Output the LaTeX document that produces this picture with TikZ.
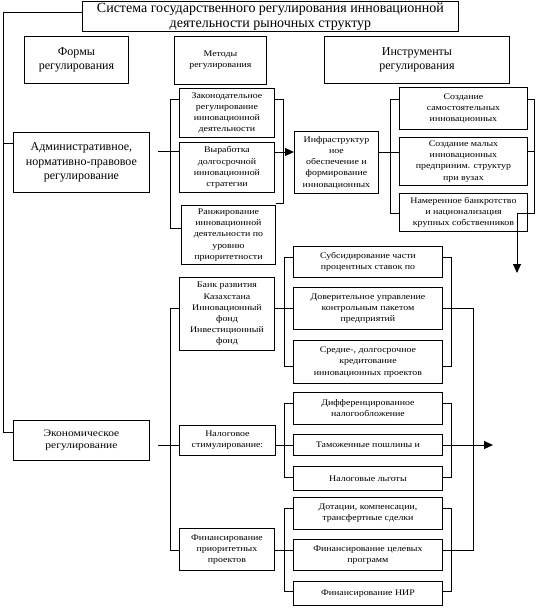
\documentclass[tikz,border=0pt]{standalone}
\usepackage{fontspec}
\setmainfont{Liberation Serif}
\newfontfamily\widefont[FakeStretch=1.15]{Liberation Serif}
\usetikzlibrary{arrows.meta}
\begin{document}
\begin{tikzpicture}[x=1pt,y=-1pt,
  ln/.style={line width=0.9pt},
  arr/.style={line width=0.9pt,-{Triangle[length=9pt,width=8pt]}},
  bx/.style={draw,line width=0.9pt,inner sep=1pt,align=center,anchor=north west},
  sm/.style={font=\widefont\fontsize{8.6}{11.2}\selectfont},
  md/.style={font=\widefont\fontsize{10}{12.5}\selectfont},
  lg/.style={font=\fontsize{12}{14.5}\selectfont},
  tt/.style={font=\fontsize{14}{15}\selectfont}]
\useasboundingbox (0,0) rectangle (544,608);
% header row
\node[bx,tt,minimum width=376pt,minimum height=30pt] (title) at (82,1) {Система государственного регулирования инновационной\\деятельности рыночных структур};
\node[bx,lg,minimum width=104pt,minimum height=47pt] (formy) at (24,36) {Формы\\регулирования};
\node[bx,sm,minimum width=92pt,minimum height=48pt] (metody) at (174,36) {Методы\\регулирования};
\node[bx,lg,minimum width=185pt,minimum height=47pt] (instr) at (324,36) {Инструменты\\регулирования};
% forms
\node[bx,lg,minimum width=136pt,minimum height=60pt] (adm) at (13,132) {Административное,\\нормативно-правовое\\регулирование};
\node[bx,md,minimum width=136pt,minimum height=40pt] (econ) at (13,420) {Экономическое\\регулирование};
% methods
\node[bx,sm,minimum width=95pt,minimum height=49pt] (zak) at (179,88) {Законодательное\\регулирование\\инновационной\\деятельности};
\node[bx,sm,minimum width=95pt,minimum height=50pt] (vyr) at (179,142) {Выработка\\долгосрочной\\инновационной\\стратегии};
\node[bx,sm,minimum width=94pt,minimum height=59pt] (ranzh) at (181,205) {Ранжирование\\инновационной\\деятельности по\\уровню\\приоритетности};
\node[bx,sm,minimum width=84pt,minimum height=62pt] (infra) at (294,131) {Инфраструктур\\ное\\обеспечение и\\формирование\\инновационных};
\node[bx,sm,minimum width=128pt,minimum height=42pt] (sozd1) at (399,87) {Создание\\самостоятельных\\инновационных};
\node[bx,sm,minimum width=128pt,minimum height=48pt] (sozd2) at (399,137) {Создание малых\\инновационных\\предприним. структур\\при вузах};
\node[bx,sm,minimum width=128pt,minimum height=38pt] (namer) at (399,193) {Намеренное банкротство\\и национализация\\крупных собственников};
\node[bx,sm,minimum width=95pt,minimum height=73pt] (bank) at (179,277) {Банк развития\\Казахстана\\Инновационный\\фонд\\Инвестиционный\\фонд};
\node[bx,sm,minimum width=96pt,minimum height=30pt] (nalog) at (179,425) {Налоговое\\стимулирование:};
\node[bx,sm,minimum width=95pt,minimum height=42pt] (finpr) at (179,528) {Финансирование\\приоритетных\\проектов};
% instruments lower
\node[bx,sm,minimum width=149pt,minimum height=31pt] (subs) at (293,246) {Субсидирование части\\процентных ставок по};
\node[bx,sm,minimum width=149pt,minimum height=42pt] (dover) at (293,287) {Доверительное управление\\контрольным пакетом\\предприятий};
\node[bx,sm,minimum width=149pt,minimum height=43pt] (sredne) at (293,340) {Средне-, долгосрочное\\кредитование\\инновационных проектов};
\node[bx,sm,minimum width=149pt,minimum height=32pt] (diff) at (293,392) {Дифференцированное\\налогообложение};
\node[bx,sm,minimum width=149pt,minimum height=21pt] (tamoz) at (293,434) {Таможенные пошлины и};
\node[bx,sm,minimum width=149pt,minimum height=24pt] (lgoty) at (293,466) {Налоговые льготы};
\node[bx,sm,minimum width=149pt,minimum height=32pt] (dotac) at (293,497) {Дотации, компенсации,\\трансфертные сделки};
\node[bx,sm,minimum width=149pt,minimum height=31pt] (celev) at (293,539) {Финансирование целевых\\программ};
\node[bx,sm,minimum width=149pt,minimum height=24pt] (nir) at (293,581) {Финансирование НИР};
% trunk
\coordinate (t1) at (3,12);
\coordinate (t2) at (3,432);
\coordinate (t3) at (3,143);
\draw[ln] (title.west |- t1) -- (t1) -- (t2) -- (econ.west |- t2);
\draw[ln] (t3) -- (adm.west |- t3);
% admin methods bracket
\coordinate (a1) at (170,99);
\coordinate (a2) at (170,228);
\coordinate (a3) at (158,151);
\draw[ln] (zak.west |- a1) -- (a1) -- (a2) -- (ranzh.west |- a2);
\draw[ln] (a3) -- (vyr.west |- a3);
% right of admin methods
\coordinate (b1) at (283,99);
\coordinate (b2) at (283,203);
\coordinate (b3) at (283,152);
\draw[ln] (zak.east |- b1) -- (b1) -- (b2) -- (ranzh.east |- b2);
\draw[arr] (vyr.east |- b3) -- (infra.west |- b3);
% infra to instruments
\coordinate (c1) at (390,99);
\coordinate (c2) at (390,213);
\coordinate (c3) at (390,152);
\draw[ln] (infra.east |- c3) -- (sozd2.west |- c3);
\draw[ln] (sozd1.west |- c1) -- (c1) -- (c2) -- (namer.west |- c2);
\coordinate (d1) at (534,99);
\coordinate (d2) at (534,213);
\coordinate (d3) at (517,213);
\coordinate (d4) at (517,273);
\coordinate (d5) at (534,151);
\draw[ln] (sozd1.east |- d1) -- (d1) -- (d2) -- (d3);
\draw[ln] (sozd2.east |- d5) -- (d5);
\draw[arr] (d3) -- (d4);
% economic methods bracket
\coordinate (e1) at (170,308);
\coordinate (e2) at (170,550);
\coordinate (e3) at (158,445);
\draw[ln] (bank.west |- e1) -- (e1) -- (e2) -- (finpr.west |- e2);
\draw[ln] (e3) -- (nalog.west |- e3);
% bank group
\coordinate (f1) at (284,257);
\coordinate (f2) at (284,366);
\coordinate (f3) at (284,308);
\draw[ln] (subs.west |- f1) -- (f1) -- (f2) -- (sredne.west |- f2);
\draw[ln] (bank.east |- f3) -- (dover.west |- f3);
\coordinate (g1) at (451,257);
\coordinate (g2) at (451,366);
\draw[ln] (subs.east |- g1) -- (g1) -- (g2) -- (sredne.east |- g2);
% nalog group
\coordinate (h1) at (284,403);
\coordinate (h2) at (284,477);
\coordinate (h3) at (284,445);
\draw[ln] (diff.west |- h1) -- (h1) -- (h2) -- (lgoty.west |- h2);
\draw[ln] (nalog.east |- h3) -- (tamoz.west |- h3);
\coordinate (i1) at (451,403);
\coordinate (i2) at (451,477);
\coordinate (i3) at (493,445);
\draw[ln] (diff.east |- i1) -- (i1) -- (i2) -- (lgoty.east |- i2);
\draw[arr] (tamoz.east |- i3) -- (i3);
% fin group
\coordinate (j1) at (284,508);
\coordinate (j2) at (284,591);
\coordinate (j3) at (284,550);
\draw[ln] (dotac.west |- j1) -- (j1) -- (j2) -- (nir.west |- j2);
\draw[ln] (finpr.east |- j3) -- (celev.west |- j3);
\coordinate (k1) at (451,508);
\coordinate (k2) at (451,591);
\draw[ln] (dotac.east |- k1) -- (k1) -- (k2) -- (nir.east |- k2);
% collector
\coordinate (l1) at (473,308);
\coordinate (l2) at (473,550);
\draw[ln] (dover.east |- l1) -- (l1) -- (l2) -- (celev.east |- l2);
\end{tikzpicture}
\end{document}
